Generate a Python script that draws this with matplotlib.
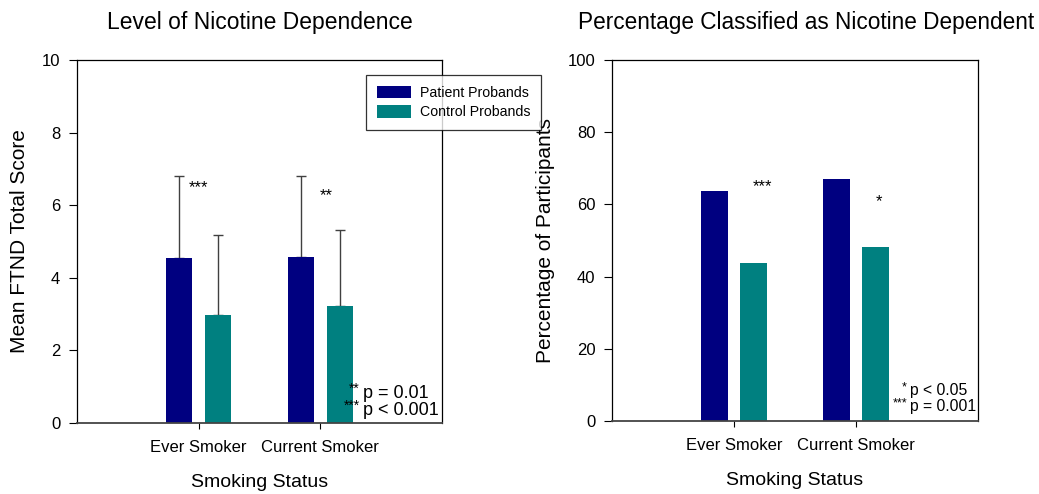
import matplotlib
matplotlib.use("Agg")
import matplotlib.pyplot as plt
import numpy as np

plt.rcParams['font.family'] = ['Liberation Sans', 'DejaVu Sans']

categories = ["Ever Smoker", "Current Smoker"]
series = ["Patient Probands", "Control Probands"]
colors = ["#000080", "#008080"]

ftnd_patient = [4.55, 4.58]
ftnd_control = [2.97, 3.22]
ftnd_patient_sd = [2.25, 2.23]
ftnd_control_sd = [2.21, 2.10]

pct_patient = [63.8, 67.0]
pct_control = [43.8, 48.2]

ftnd_stars = ["***", "**"]
pct_stars = ["***", "*"]
ftnd_note_stars = ["**", "***"]
ftnd_note_text = ["p = 0.01", "p < 0.001"]
pct_note_stars = ["*", "***"]
pct_note_text = ["p < 0.05", "p = 0.001"]

fig = plt.figure(figsize=(10.39, 4.94), dpi=100)
W, H = 1039, 494

def add_ax(x0, x1, y0, y1):
    return fig.add_axes([x0 / W, 1 - y1 / H, (x1 - x0) / W, (y1 - y0) / H])

ax1 = add_ax(77, 442, 60, 423)
ax2 = add_ax(612, 978, 60, 421)

x = np.array([1, 2])
bw = 0.215
off = 0.16

def style(ax, ymax, step):
    ax.set_xlim(0, 3)
    ax.set_ylim(0, ymax)
    ax.set_yticks(np.arange(0, ymax + 1e-9, step))
    ax.set_xticks(x)
    ax.set_xticklabels(categories, fontsize=12)
    ax.tick_params(axis='y', direction='out', length=6, labelsize=12, pad=6)
    ax.tick_params(axis='x', direction='out', length=4, pad=8)
    for s in ax.spines.values():
        s.set_linewidth(0.9)
    ax.spines['bottom'].set_color('#444444')
    ax.spines['bottom'].set_linewidth(1.3)
    ax.set_xlabel("Smoking Status", fontsize=14, labelpad=14)

def notes(stars, texts, xp, ys, fs, sfs):
    for s, t, y in zip(stars, texts, ys):
        fig.text(xp / W, 1 - y / H, t, ha='left', va='baseline', fontsize=fs)
        fig.text((xp - 3) / W, 1 - (y - 5) / H, s, ha='right', va='baseline', fontsize=sfs)

# Left chart
b1 = ax1.bar(x - off, ftnd_patient, bw, color=colors[0], label=series[0], zorder=2)
b2 = ax1.bar(x + off, ftnd_control, bw, color=colors[1], label=series[1], zorder=2)
ax1.errorbar(x - off, ftnd_patient, yerr=[np.zeros(2), ftnd_patient_sd], fmt='none',
             ecolor='#404040', elinewidth=1, capsize=3.5, capthick=1, zorder=1)
ax1.errorbar(x + off, ftnd_control, yerr=[np.zeros(2), ftnd_control_sd], fmt='none',
             ecolor='#404040', elinewidth=1, capsize=3.5, capthick=1, zorder=1)
style(ax1, 10, 2)
ax1.set_ylabel("Mean FTND Total Score", fontsize=15, labelpad=9)
ax1.set_title("Level of Nicotine Dependence", fontsize=16.5, pad=22)
ax1.text(1.0, 6.35, ftnd_stars[0], ha='center', va='baseline', fontsize=12)
ax1.text(2.046, 6.13, ftnd_stars[1], ha='center', va='baseline', fontsize=12)
notes(ftnd_note_stars, ftnd_note_text, 363, [398, 415], 13, 10)

leg = fig.legend(handles=[b1, b2], labels=series, loc='upper left',
                 bbox_to_anchor=(366 / W, 1 - 75 / H), fontsize=10.2, frameon=True,
                 fancybox=False, edgecolor='black', handlelength=2.4, handleheight=1.0,
                 borderpad=0.75, labelspacing=0.36, handletextpad=0.65, borderaxespad=0)
leg.get_frame().set_linewidth(0.9)

# Right chart
ax2.bar(x - off, pct_patient, bw, color=colors[0], zorder=2)
ax2.bar(x + off, pct_control, bw, color=colors[1], zorder=2)
style(ax2, 100, 20)
ax2.set_ylabel("Percentage of Participants", fontsize=15, labelpad=9)
ax2.set_title("Percentage Classified as Nicotine Dependent", fontsize=16.3, pad=22, x=0.53)
ax2.text(1.23, 63.6, pct_stars[0], ha='center', va='baseline', fontsize=12)
ax2.text(2.19, 59.4, pct_stars[1], ha='center', va='baseline', fontsize=12)
notes(pct_note_stars, pct_note_text, 910, [395, 411], 11.3, 9)

fig.savefig("out.png", dpi=100)
